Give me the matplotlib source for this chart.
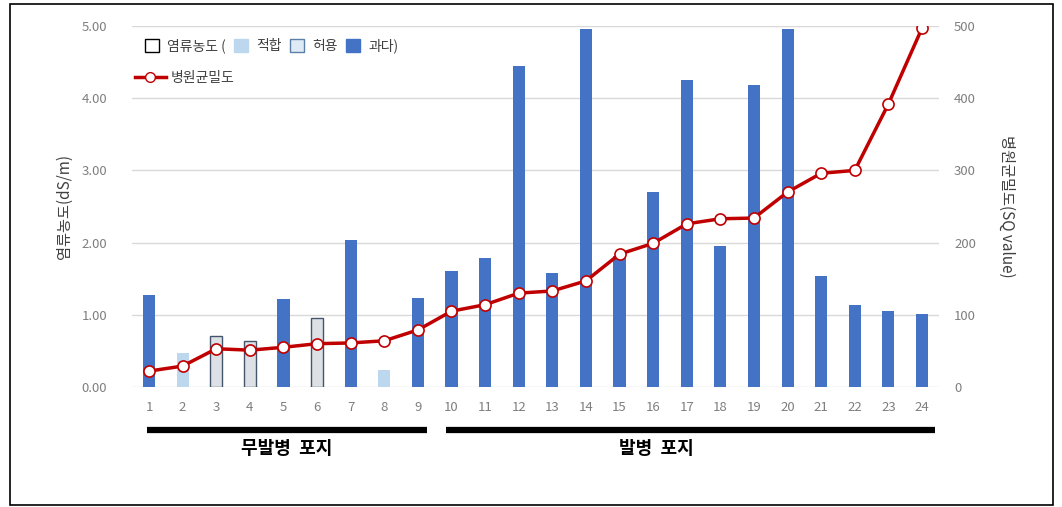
import matplotlib
matplotlib.use("Agg")
import matplotlib.pyplot as plt
from matplotlib.patches import Patch, Rectangle
from matplotlib.lines import Line2D
import matplotlib.transforms as mtrans

plt.rcParams['font.family'] = ['Noto Sans CJK KR', 'DejaVu Sans']

sites = [str(i) for i in range(1, 25)]
salinity = [1.27, 0.47, 0.71, 0.64, 1.22, 0.96, 2.03, 0.24, 1.23, 1.61, 1.79, 4.44,
            1.58, 4.96, 1.81, 2.70, 4.25, 1.95, 4.18, 4.96, 1.54, 1.14, 1.05, 1.01]
salinity_class = ['과다', '적합', '허용', '허용', '과다', '허용', '과다', '적합', '과다', '과다', '과다', '과다',
                  '과다', '과다', '과다', '과다', '과다', '과다', '과다', '과다', '과다', '과다', '과다', '과다']
pathogen = [22, 29, 53, 51, 55, 60, 61, 64, 79, 105, 114, 130,
            133, 147, 184, 199, 226, 233, 234, 270, 296, 300, 392, 497]
left_ticks = [0, 1, 2, 3, 4, 5]
right_ticks = [0, 100, 200, 300, 400, 500]
group_names = ['무발병  포지', '발병  포지']

face = {'적합': '#BDD7EE', '허용': '#DDE1E6', '과다': '#4472C4'}
edge = {'적합': '#BDD7EE', '허용': '#44546A', '과다': '#4472C4'}

fig = plt.figure(figsize=(10.62, 5.07), dpi=100)
ax = fig.add_axes([0.1245, 0.2367, 0.7595, 0.712])
ax2 = ax.twinx()

x = list(range(len(sites)))
for xi, v, c in zip(x, salinity, salinity_class):
    ax.bar(xi, v, width=0.36, color=face[c], edgecolor=edge[c], linewidth=1.0 if c == '허용' else 0, zorder=2)

ax2.plot(x, pathogen, color='#C00000', lw=2.5, marker='o', markersize=8,
         markerfacecolor='white', markeredgecolor='#C00000', markeredgewidth=1.2, zorder=3)

ax.set_xlim(-0.5, len(sites) - 0.5)
ax.set_ylim(0, 5)
ax2.set_ylim(0, 500)
ax.set_yticks(left_ticks)
ax.set_yticklabels([f'{t:.2f}' for t in left_ticks])
ax2.set_yticks(right_ticks)
ax.set_xticks(x)
ax.set_xticklabels(sites)
ax.grid(axis='y', color='#D9D9D9', lw=1, zorder=0)
ax.set_axisbelow(True)
for a in (ax, ax2):
    for s in a.spines.values():
        s.set_visible(False)
ax.tick_params(axis='y', length=0, pad=18, labelsize=9.5, labelcolor='#7F7F7F')
ax.tick_params(axis='x', length=0, pad=10, labelsize=9.5, labelcolor='#7F7F7F')
ax2.tick_params(axis='y', length=0, pad=11, labelsize=9.5, labelcolor='#7F7F7F')

ax.set_ylabel('염류농도(dS/m)', fontsize=11, color='#404040', labelpad=6)
ax2.set_ylabel('병원균밀도(SQ value)', fontsize=11, color='#404040', rotation=270, labelpad=28)

# legend
h1 = [Patch(facecolor='white', edgecolor='#000000', lw=1),
      Patch(facecolor='#BDD7EE', edgecolor='#BDD7EE'),
      Patch(facecolor='#DEEBF7', edgecolor='#5B7FA6', lw=1),
      Patch(facecolor='#4472C4', edgecolor='#4472C4')]
l1 = ['염류농도 (', '적합', '허용', '과다)']
leg1 = ax.legend(h1, l1, ncol=4, loc='upper left', bbox_to_anchor=(0.0, 1.0), frameon=False,
                 fontsize=10, handlelength=1.0, handleheight=1.0, columnspacing=0.6, handletextpad=0.6,
                 labelcolor='#404040')
ax.add_artist(leg1)
h2 = [Line2D([0], [0], color='#C00000', lw=2.5, marker='o', markersize=7,
             markerfacecolor='white', markeredgecolor='#C00000')]
ax.legend(h2, ['병원균밀도'], loc='upper left', bbox_to_anchor=(-0.012, 0.91), frameon=False,
          fontsize=10, handlelength=2.2, handletextpad=0.4, labelcolor='#404040')

# group bars and labels (x extents / label centres in data units)
group_spans = [(-0.06, 8.27), (8.84, 23.39)]
group_label_x = [4.1, 15.1]
trans = mtrans.blended_transform_factory(ax.transData, ax.transAxes)
for name, (x0, x1), lx in zip(group_names, group_spans, group_label_x):
    ax.plot([x0, x1], [-0.119, -0.119], color='black', lw=4.5, transform=trans, clip_on=False,
            solid_capstyle='butt')
    ax.text(lx, -0.17, name, transform=trans, ha='center', va='center',
            fontsize=13, fontweight='bold', color='black')

# outer frame
fig.patches.append(Rectangle((10 / 1062, 2 / 507), 1043 / 1062, 501 / 507, transform=fig.transFigure,
                             fill=False, edgecolor='black', lw=1.2))

fig.savefig('out.png', dpi=100)
